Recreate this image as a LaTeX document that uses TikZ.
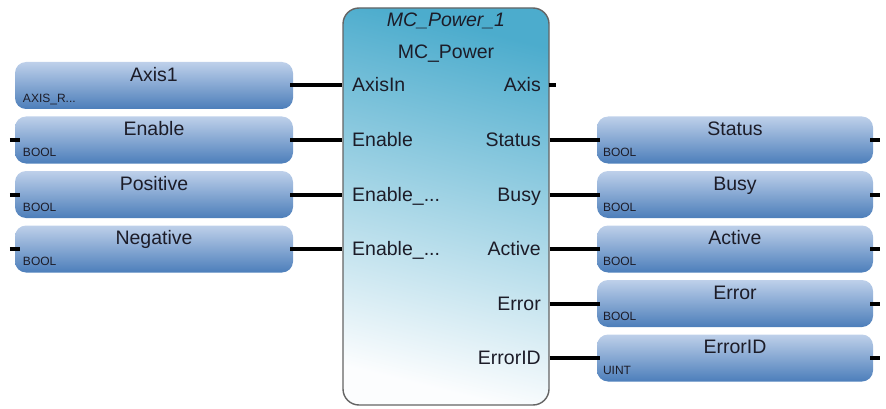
\documentclass[tikz,border=0pt]{standalone}
\usepackage{fontspec}
\setmainfont{Liberation Sans}
\definecolor{boxtop}{RGB}{190,208,234}
\definecolor{boxmid}{RGB}{136,170,213}
\definecolor{boxbot}{RGB}{76,126,186}
\definecolor{blktop}{RGB}{76,172,205}
\definecolor{blkmid}{RGB}{188,223,235}
\definecolor{blkbot}{RGB}{252,253,254}
\definecolor{txt}{RGB}{28,28,40}
\begin{document}
\begin{tikzpicture}[x=1pt,y=-1pt,
  varbox/.style={rounded corners=11pt, minimum height=47pt, inner sep=0pt,
    top color=boxtop, middle color=boxmid, bottom color=boxbot, draw=none},
  inbox/.style={varbox, minimum width=278pt},
  outbox/.style={varbox, minimum width=276pt},
  blkbox/.style={rounded corners=16pt, draw={rgb,255:red,100;green,100;blue,100}, line width=1.4pt,
    top color=blktop, middle color=blkmid, bottom color=blkbot, shading angle=-14,
    minimum width=206pt, minimum height=397pt, inner sep=0pt},
  wire/.style={line width=4pt, black},
  lbl/.style={font=\fontsize{19.5}{22}\selectfont, text=txt, inner sep=0pt},
  typ/.style={font=\fontsize{12}{14}\selectfont, text=txt, inner sep=0pt, anchor=base west},
  ttl/.style={lbl, anchor=base}]
\useasboundingbox (0,0) rectangle (886,409);

% function block
\node[blkbox] (blk) at (446,206.5) {};
\node[lbl, anchor=base, font=\fontsize{19.5}{22}\selectfont\itshape] (inst) at (446,27) {MC\_Power\_1};
\node[lbl, anchor=base] (fbname) at (446,59) {MC\_Power};

% input pin labels
\node[lbl, anchor=base west] (pAxisIn) at (352,92) {AxisIn};
\node[lbl, anchor=base west] (pEnable) at (352,146.5) {Enable};
\node[lbl, anchor=base west] (pPos) at (352,201) {Enable\_...};
\node[lbl, anchor=base west] (pNeg) at (352,255.5) {Enable\_...};
% output pin labels
\node[lbl, anchor=base east] (pAxis) at (541,92) {Axis};
\node[lbl, anchor=base east] (pStatus) at (541,146.5) {Status};
\node[lbl, anchor=base east] (pBusy) at (541,201) {Busy};
\node[lbl, anchor=base east] (pActive) at (541,255.5) {Active};
\node[lbl, anchor=base east] (pError) at (541,310) {Error};
\node[lbl, anchor=base east] (pErrorID) at (541,364.5) {ErrorID};

% input variable boxes
\node[inbox] (iAxis) at (154,85.5) {};
\node[inbox] (iEn) at (154,140) {};
\node[inbox] (iPos) at (154,194.5) {};
\node[inbox] (iNeg) at (154,249) {};
% output variable boxes
\node[outbox] (oStatus) at (735,140) {};
\node[outbox] (oBusy) at (735,194.5) {};
\node[outbox] (oActive) at (735,249) {};
\node[outbox] (oError) at (735,303.5) {};
\node[outbox] (oErrorID) at (735,358) {};

% titles
\foreach \n/\t in {iAxis/Axis1, iEn/Enable, iPos/Positive, iNeg/Negative,
  oStatus/Status, oBusy/Busy, oActive/Active, oError/Error, oErrorID/ErrorID}
  \node[ttl] (t\n) at ([yshift=-19.5pt]\n.north) {\t};
% types
\node[typ] (yAxis) at ([xshift=8pt,yshift=7pt]iAxis.south west) {AXIS\_R...};
\foreach \n in {iEn, iPos, iNeg}
  \node[typ] (y\n) at ([xshift=8pt,yshift=7pt]\n.south west) {BOOL};
\foreach \n in {oStatus, oBusy, oActive, oError}
  \node[typ] (y\n) at ([xshift=6pt,yshift=7pt]\n.south west) {BOOL};
\node[typ] (yoErrorID) at ([xshift=6pt,yshift=7pt]oErrorID.south west) {UINT};

% connectors
\foreach \n in {iAxis, iEn, iPos, iNeg}
  \draw[wire] ([xshift=-3pt]\n.east) -- (\n.east -| blk.west);
\foreach \n in {oStatus, oBusy, oActive, oError, oErrorID}
  \draw[wire] (\n.west -| blk.east) -- ([xshift=3pt]\n.west);
% stubs
\foreach \n in {iEn, iPos, iNeg} {
  \coordinate (s\n) at ([xshift=-5pt]\n.west);
  \draw[wire] (s\n) -- ([xshift=5pt]\n.west);
}
\foreach \n in {oStatus, oBusy, oActive, oError, oErrorID} {
  \coordinate (s\n) at ([xshift=7pt]\n.east);
  \draw[wire] ([xshift=-3pt]\n.east) -- (s\n);
}
\coordinate (sAxis) at ([xshift=6pt]blk.east |- pAxis.west);
\draw[wire] ([xshift=-1pt]blk.east |- iAxis.east) -- (sAxis |- iAxis.east);
\end{tikzpicture}
\end{document}
